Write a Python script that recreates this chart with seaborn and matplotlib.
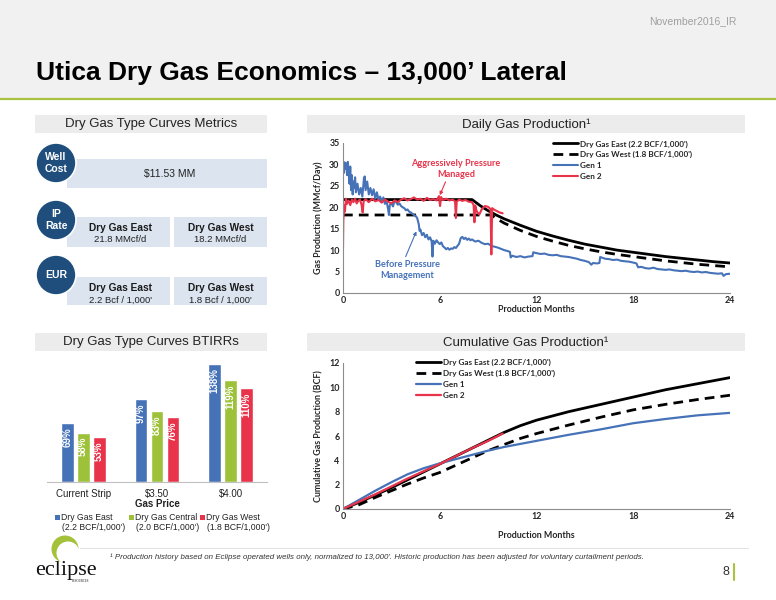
import matplotlib
matplotlib.use('Agg')
import matplotlib.pyplot as plt
import numpy as np
import pandas as pd
import seaborn as sns
from matplotlib import font_manager
from matplotlib.patches import Rectangle, Circle

# %%
# data
# daily gas production (MMcf/d) vs production month
east_month = [0, 8.0, 8.5, 9, 9.5, 10, 11, 12, 13, 14, 15, 16, 17, 18, 19, 20, 21, 22, 23, 24]
east_rate = [21.8, 21.8, 20.4, 19.2, 18.2, 17.3, 15.8, 14.4, 13.3, 12.3, 11.4, 10.7, 10.0, 9.5,
             9.0, 8.5, 8.1, 7.7, 7.3, 7.0]
west_month = [0, 9.2, 9.5, 10, 11, 12, 13, 14, 15, 16, 17, 18, 19, 20, 21, 22, 23, 24]
west_rate = [18.2, 18.2, 17.4, 16.3, 14.6, 13.2, 12.1, 11.1, 10.3, 9.6, 9.0, 8.5, 8.0, 7.5,
             7.1, 6.7, 6.4, 6.1]

gen1_month = [0, 0.05, 0.1, 0.15, 0.2, 0.25, 0.3, 0.35, 0.4, 0.45, 0.5, 0.55, 0.6, 0.65, 0.7,
              0.75, 0.8, 0.9, 1.0, 1.1, 1.2, 1.3, 1.35, 1.4, 1.5, 1.6, 1.7, 1.8, 1.9, 2.0,
              2.1, 2.2, 2.3, 2.4, 2.5, 2.6, 2.7, 2.8, 2.85, 2.9, 3.0, 3.1, 3.2, 3.3, 3.4,
              3.5, 3.6, 3.7, 3.8, 3.9, 4.0, 4.1, 4.2, 4.3, 4.4, 4.5, 4.6, 4.7, 4.75, 4.8,
              4.9, 5.0, 5.1, 5.2, 5.3, 5.4, 5.5, 5.55, 5.6, 5.7, 5.8, 5.9, 6.0, 6.1, 6.2,
              6.3, 6.4, 6.5, 6.6, 6.7, 6.8, 6.9, 7.0, 7.1, 7.2, 7.3, 7.4, 7.5, 7.6, 7.7,
              7.8, 7.9, 8.0, 8.2, 8.4, 8.6, 8.8, 9.0, 9.2, 9.4, 9.6, 9.8, 10.0, 10.2, 10.35,
              10.4, 10.5, 10.75, 11.0, 11.25, 11.5, 11.75, 11.8, 12.0, 12.25, 12.5, 12.75,
              13.0, 13.25, 13.5, 13.75, 14.0, 14.25, 14.5, 14.75, 15.0, 15.25, 15.4, 15.5,
              15.75, 15.9, 15.95, 16.25, 16.5, 16.75, 17.0, 17.25, 17.5, 17.75, 18.0, 18.2,
              18.3, 18.5, 18.75, 19.0, 19.25, 19.5, 19.75, 20.0, 20.25, 20.5, 20.75, 21.0,
              21.25, 21.5, 21.75, 22.0, 22.25, 22.5, 22.75, 23.0, 23.25, 23.5, 23.6, 23.75, 24.0]
gen1_rate = [29.5, 28.0, 30.5, 29.0, 30.2, 27.5, 30.6, 28.0, 25.5, 29.5, 24.0, 27.5, 23.0, 26.0,
             24.5, 27.0, 23.5, 25.5, 23.0, 24.5, 22.5, 26.8, 27.2, 24.0, 26.0, 23.0, 24.5, 22.8,
             24.2, 22.0, 23.5, 21.8, 22.5, 21.2, 22.3, 20.8, 21.5, 19.5, 18.2, 20.5, 21.0, 20.2,
             21.5, 21.2, 20.6, 20.9, 20.3, 20.0, 19.8, 19.3, 19.5, 19.0, 18.8, 18.5, 18.2, 18.0,
             17.5, 16.0, 14.5, 14.8, 13.5, 14.0, 13.0, 13.6, 12.5, 13.0, 12.0, 8.5, 12.2, 11.5,
             12.3, 11.8, 11.4, 11.8, 10.9, 10.6, 10.2, 10.5, 10.1, 10.4, 10.3, 10.7, 10.5, 11.0,
             11.5, 12.8, 13.1, 12.6, 12.9, 12.4, 12.7, 12.3, 12.5, 12.0, 12.2, 11.7, 11.4, 11.5,
             11.0, 10.8, 10.6, 10.3, 10.0, 9.8, 9.6, 8.3, 8.7, 8.4, 8.6, 8.3, 8.5, 8.6, 9.5, 9.3,
             9.1, 9.2, 8.9, 8.8, 8.9, 8.6, 8.5, 8.4, 8.2, 8.0, 7.7, 7.5, 7.2, 6.6, 7.0, 6.9, 7.0,
             8.4, 8.0, 7.9, 7.7, 7.8, 7.5, 7.4, 7.3, 7.1, 6.9, 6.0, 6.1, 5.8, 5.7, 5.9, 5.6, 5.5,
             5.4, 5.5, 5.3, 5.2, 5.1, 5.2, 5.0, 4.9, 5.0, 4.8, 4.9, 4.7, 4.6, 4.5, 4.6, 4.0, 4.4, 4.5]

gen2_month = [0, 0.02, 0.08, 0.12, 0.18, 0.25, 0.35, 0.45, 0.55, 0.65, 0.75, 0.85, 0.95, 1.05,
              1.15, 1.22, 1.28, 1.4, 1.6, 1.8, 2.0, 2.2, 2.4, 2.6, 2.8, 3.0, 3.2, 3.4, 3.6, 3.8,
              4.0, 4.2, 4.4, 4.6, 4.8, 5.0, 5.2, 5.4, 5.6, 5.8, 5.95, 6.02, 6.08, 6.2, 6.4, 6.6,
              6.8, 6.95, 7.0, 7.05, 7.2, 7.4, 7.6, 7.8, 8.0, 8.1, 8.15, 8.2, 8.3, 8.45, 8.6, 8.8,
              9.0, 9.15, 9.2, 9.25, 9.35, 9.5, 9.7, 9.9]
gen2_rate = [10.5, 17.0, 20.5, 19.0, 22.0, 20.8, 21.6, 20.5, 21.8, 21.2, 22.0, 20.9, 21.5, 21.8,
             20.6, 18.8, 21.4, 21.9, 21.2, 22.0, 21.4, 21.7, 21.1, 21.8, 21.3, 20.9, 21.6, 21.2,
             21.8, 22.1, 21.6, 21.9, 22.3, 21.8, 22.0, 21.5, 22.2, 21.7, 21.9, 21.6, 22.6, 20.3,
             22.4, 21.7, 22.0, 21.6, 21.8, 21.4, 17.5, 21.3, 21.8, 21.5, 21.7, 21.3, 21.2, 20.5,
             16.5, 20.4, 19.0, 18.3, 19.5, 20.3, 20.1, 19.6, 9.0, 19.8, 19.5, 19.2, 18.8, 18.6]

# cumulative gas production (BCF)
cum_month = [0, 1, 2, 3, 4, 5, 6, 7, 8, 9, 10, 11, 12, 14, 16, 18, 20, 22, 24]
cum_east = [0, 0.55, 1.15, 1.75, 2.4, 3.05, 3.7, 4.35, 5.0, 5.65, 6.3, 6.85, 7.3, 8.0, 8.6,
            9.2, 9.8, 10.3, 10.8]
cum_west = [0, 0.35, 0.95, 1.5, 2.05, 2.55, 3.0, 3.6, 4.2, 4.8, 5.3, 5.8, 6.2, 6.9, 7.55,
            8.15, 8.6, 9.0, 9.35]
cum_gen1 = [0, 0.75, 1.5, 2.2, 2.85, 3.35, 3.75, 4.1, 4.45, 4.8, 5.1, 5.35, 5.6, 6.1, 6.55,
            7.05, 7.4, 7.7, 7.9]
cum_gen2_month = [0, 1, 2, 3, 4, 5, 6, 7, 8, 9, 9.9]
cum_gen2 = [0, 0.6, 1.2, 1.85, 2.5, 3.1, 3.7, 4.35, 5.0, 5.6, 6.2]

# BTIRR bars
price_cases = ['Current Strip', '$3.50', '$4.00']
irr_east = [69, 97, 138]
irr_central = [58, 83, 119]
irr_west = [53, 76, 110]
type_names = ['Dry Gas East', 'Dry Gas Central', 'Dry Gas West']
type_eur = ["(2.2 BCF/1,000')", "(2.0 BCF/1,000')", "(1.8 BCF/1,000')"]

# %%
sns.set_theme(style='white')
avail = {f.name for f in font_manager.fontManager.ttflist}
NARROW = 'Liberation Sans Narrow' if 'Liberation Sans Narrow' in avail else 'Liberation Sans'
plt.rcParams['font.family'] = ['Liberation Sans', 'DejaVu Sans']
CHART = 'Lato'

BLUE = '#4672b8'
RED = '#e8334a'
GREEN = '#9dc23a'
NAVY = '#1f4e7d'
LIGHTBLUE = '#dbe4ef'
GRAYBOX = '#ececec'

fig = plt.figure(figsize=(7.76, 6.0), dpi=100)
bg = fig.add_axes([0, 0, 1, 1])
bg.set_xlim(0, 776)
bg.set_ylim(600, 0)
bg.axis('off')


def box(x0, y0, x1, y1, color):
    bg.add_patch(Rectangle((x0, y0), x1 - x0, y1 - y0, facecolor=color, edgecolor='none'))


# header
box(0, 0, 776, 98, '#f1f1f1')
bg.plot([0, 776], [99, 99], color='#a9c23f', lw=1.6)
bg.text(737, 21, 'November2016_IR', ha='right', va='center', fontsize=7.5, color='#a0a0a0',
        family=NARROW)
bg.text(36, 80, 'Utica Dry Gas Economics \u2013 13,000\u2019 Lateral', ha='left',
        va='baseline', fontsize=19, fontweight='bold', family=NARROW, color='black')

# section headers
for (x0, y0, x1, y1, txt) in [(35, 115, 267, 133, 'Dry Gas Type Curves Metrics'),
                              (307, 115, 745, 133, 'Daily Gas Production\u00b9'),
                              (35, 333, 267, 351, 'Dry Gas Type Curves BTIRRs'),
                              (307, 333, 745, 351, 'Cumulative Gas Production\u00b9')]:
    box(x0, y0, x1, y1, GRAYBOX)
    bg.text((x0 + x1) / 2, (y0 + y1) / 2 + 0.5, txt, ha='center', va='center', fontsize=9.5,
            color='#222222')

# metrics panel
box(67, 159, 267, 188, LIGHTBLUE)
bg.text(170, 174, '$11.53 MM', ha='center', va='center', fontsize=7.5, color='#222222')
for (y0, y1, vals) in [(217, 247, ['21.8 MMcf/d', '18.2 MMcf/d']),
                       (277, 305, ["2.2 Bcf / 1,000'", "1.8 Bcf / 1,000'"])]:
    for (x0, x1, name, val) in [(67, 170, 'Dry Gas East', vals[0]),
                                (174, 267, 'Dry Gas West', vals[1])]:
        box(x0, y0, x1, y1, LIGHTBLUE)
        xc = (x0 + x1) / 2 + (2 if x0 == 67 else 0)
        bg.text(xc, y0 + 11, name, ha='center', va='center', fontsize=7.3, fontweight='bold',
                color='#1a1a1a')
        bg.text(xc, y0 + 23, val, ha='center', va='center', fontsize=6.8, color='#222222')
for (cy, txt) in [(163, 'Well\nCost'), (220, 'IP\nRate'), (275, 'EUR')]:
    bg.add_patch(Circle((56, cy), 20, facecolor=NAVY, edgecolor='white', lw=1.2))
    bg.text(56, cy, txt, ha='center', va='center', fontsize=7.5, fontweight='bold',
            color='white', linespacing=1.15)

# footer
bg.plot([80, 748], [548, 548], color='#e3e3e3', lw=0.8)
bg.text(110, 557, '\u00b9 Production history based on Eclipse operated wells only, normalized '
        "to 13,000'. Historic production has been adjusted for voluntary curtailment periods.",
        ha='left', va='center', fontsize=5.7, style='italic', family=NARROW, color='#333333')
bg.text(729, 572, '8', ha='right', va='center', fontsize=9, color='#333333')
bg.plot([734, 734], [564, 580], color='#a9c23f', lw=1.5)
# logo
bg.add_patch(Circle((65, 549), 13.5, facecolor='#a4c13a', edgecolor='none'))
bg.add_patch(Circle((68, 553), 11.5, facecolor='white', edgecolor='none'))
bg.text(66, 575, 'eclipse', ha='center', va='baseline', fontsize=16,
        family='Liberation Serif', color='#111111')
bg.text(81, 581, 'RESOURCES', ha='center', va='center', fontsize=2.2,
        family='Liberation Serif', color='#111111')


# %%
def style_line_axes(ax, ymax, ystep, ylabel):
    ax.set_facecolor('none')
    ax.set_xlim(0, 24)
    ax.set_ylim(0, ymax)
    ax.set_xticks([0, 6, 12, 18, 24])
    ax.set_yticks(np.arange(0, ymax + 0.1, ystep))
    for s in ['top', 'right']:
        ax.spines[s].set_visible(False)
    for s in ['left', 'bottom']:
        ax.spines[s].set_color('#8c8c8c')
        ax.spines[s].set_linewidth(0.8)
    ax.tick_params(axis='both', length=0, pad=2.5, labelsize=6.4)
    for lab in ax.get_xticklabels() + ax.get_yticklabels():
        lab.set_family(CHART)
        lab.set_fontweight('bold')
    ax.set_ylabel(ylabel, fontsize=6.4, fontweight='bold', family=CHART, labelpad=4)


legend_prop = {'family': CHART, 'weight': 'bold', 'size': 5.9}

# daily gas production
ax1 = fig.add_axes([343 / 776, 1 - 293 / 600, 387 / 776, 150 / 600])
sns.lineplot(x=east_month, y=east_rate, ax=ax1, color='black', lw=2.0,
             label="Dry Gas East (2.2 BCF/1,000')")
sns.lineplot(x=west_month, y=west_rate, ax=ax1, color='black', lw=2.0,
             linestyle=(0, (3.5, 2.2)), label="Dry Gas West (1.8 BCF/1,000')")
sns.lineplot(x=gen1_month, y=gen1_rate, ax=ax1, color=BLUE, lw=1.5, estimator=None,
             sort=False, label='Gen 1')
sns.lineplot(x=gen2_month, y=gen2_rate, ax=ax1, color=RED, lw=1.5, estimator=None,
             sort=False, label='Gen 2')
style_line_axes(ax1, 35, 5, 'Gas Production (MMcf/Day)')
ax1.set_xlabel('Production Months', fontsize=6.4, fontweight='bold', family=CHART, labelpad=0)
ax1.legend(loc='upper right', bbox_to_anchor=(0.91, 1.04), frameon=False, handlelength=3.0,
           labelspacing=0.45, handletextpad=0.25, borderaxespad=0, prop=legend_prop)
ax1.annotate('Aggressively Pressure\nManaged', xy=(6.0, 22.8), xytext=(7.0, 29.0),
             ha='center', va='center', fontsize=6.6, fontweight='bold', family=CHART,
             color=RED, linespacing=1.25,
             arrowprops=dict(arrowstyle='-|>', color=RED, lw=0.8, mutation_scale=5,
                             shrinkA=0, shrinkB=0, relpos=(0.4, 0)))
ax1.annotate('Before Pressure\nManagement', xy=(4.55, 14.4), xytext=(4.0, 5.4),
             ha='center', va='center', fontsize=6.6, fontweight='bold', family=CHART,
             color=BLUE, linespacing=1.25,
             arrowprops=dict(arrowstyle='-|>', color=BLUE, lw=0.8, mutation_scale=5,
                             shrinkA=0, shrinkB=0, relpos=(0.45, 1)))

# cumulative gas production
ax2 = fig.add_axes([343 / 776, 1 - 509 / 600, 387 / 776, 146 / 600])
sns.lineplot(x=cum_month, y=cum_east, ax=ax2, color='black', lw=2.0,
             label="Dry Gas East (2.2 BCF/1,000')")
sns.lineplot(x=cum_month, y=cum_west, ax=ax2, color='black', lw=2.0,
             linestyle=(0, (3.5, 2.2)), label="Dry Gas West (1.8 BCF/1,000')")
sns.lineplot(x=cum_month, y=cum_gen1, ax=ax2, color=BLUE, lw=1.6, label='Gen 1')
sns.lineplot(x=cum_gen2_month, y=cum_gen2, ax=ax2, color=RED, lw=1.6, label='Gen 2')
style_line_axes(ax2, 12, 2, 'Cumulative Gas Production (BCF)')
ax2.set_xlabel('Production Months', fontsize=6.4, fontweight='bold', family=CHART, labelpad=7)
ax2.legend(loc='upper left', bbox_to_anchor=(0.18, 1.05), frameon=False, handlelength=3.0,
           labelspacing=0.45, handletextpad=0.25, borderaxespad=0, prop=legend_prop)

# %%
# BTIRR bar chart
df = pd.DataFrame({
    'price': price_cases * 3,
    'irr': irr_east + irr_central + irr_west,
    'type': [type_names[0]] * 3 + [type_names[1]] * 3 + [type_names[2]] * 3,
})
palette = [BLUE, GREEN, RED]
ax3 = fig.add_axes([47 / 776, 1 - 482 / 600, 220 / 776, 128 / 600])
sns.barplot(data=df, x='price', y='irr', hue='type', palette=palette, width=0.65, gap=0.19,
            legend=False, ax=ax3, saturation=1)
ax3.set_facecolor('none')
ax3.set_xlim(-0.49, 2.49)
ax3.set_ylim(0, 150)
ax3.set_yticks([])
ax3.set_ylabel('')
for s in ['top', 'right', 'left']:
    ax3.spines[s].set_visible(False)
ax3.spines['bottom'].set_color('#bfbfbf')
ax3.spines['bottom'].set_linewidth(0.8)
ax3.tick_params(axis='x', length=0, pad=5, labelsize=7, labelcolor='#222222')
ax3.set_xlabel('Gas Price', fontsize=7, fontweight='bold', labelpad=0, color='#222222')
for cont in ax3.containers:
    for bar in cont:
        h = bar.get_height()
        ax3.text(bar.get_x() + bar.get_width() / 2, h - 5, f'{int(h)}%', rotation=90,
                 ha='center', va='top', fontsize=7, fontweight='bold', color='white')

# legend under the bars
for (lx, name, eur, col) in zip([57, 131, 202], type_names, type_eur, palette):
    bg.add_patch(Rectangle((lx - 2.5, 514.5), 5, 5, facecolor=col, edgecolor='none'))
    bg.text(lx + 4, 517, name, ha='left', va='center', fontsize=6.2, color='#222222')
    bg.text(lx + 5, 527, eur, ha='left', va='center', fontsize=6.2, color='#222222')

plt.savefig('out.png', dpi=100)
